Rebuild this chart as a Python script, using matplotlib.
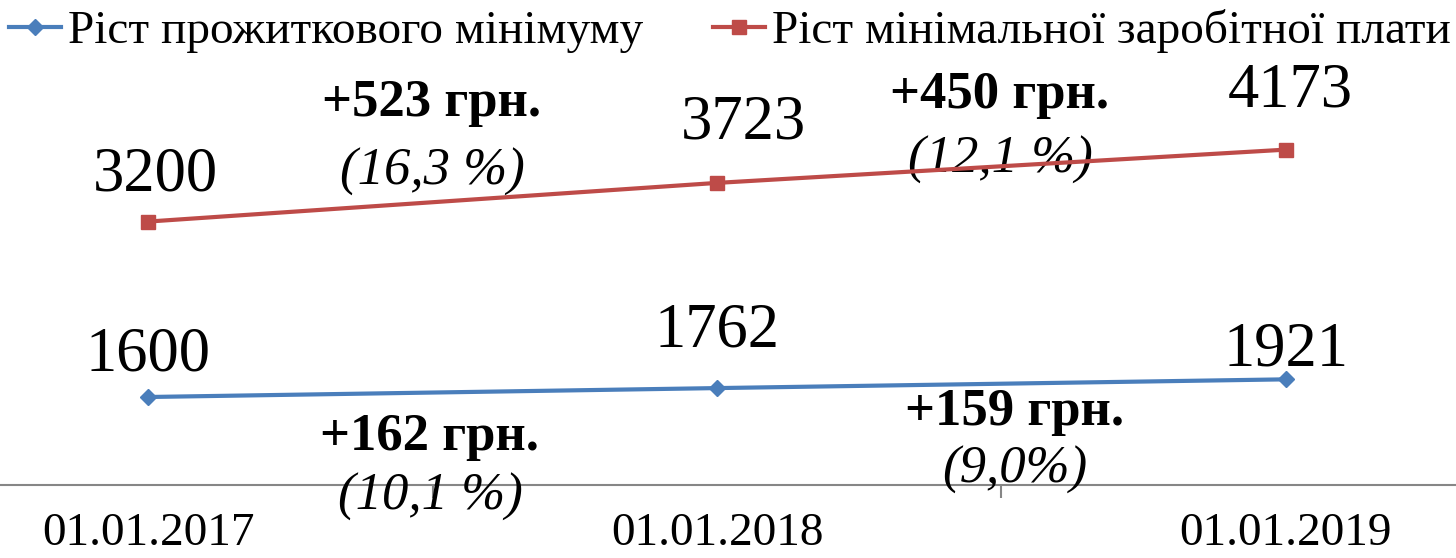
import matplotlib.pyplot as plt
import matplotlib as mpl

mpl.rcParams['font.family'] = ['Liberation Serif', 'DejaVu Serif']
mpl.rcParams['font.size'] = 34

dates = ['01.01.2017', '01.01.2018', '01.01.2019']
subsistence = [1600, 1762, 1921]
min_wage = [3200, 3723, 4173]

# growth notes between the dates
wage_delta = ['+523 грн.', '+450 грн.']
wage_pct = ['(16,3 %)', '(12,1 %)']
subs_delta = ['+162 грн.', '+159 грн.']
subs_pct = ['(10,1 %)', '(9,0%)']

blue = '#4A7EBB'
red = '#BE4B48'

W, H = 1456, 558
fig = plt.figure(figsize=(W / 100, H / 100), dpi=100)
# axes wider than figure: category edges fall outside the picture
ax = fig.add_axes([-136 / W, 73 / H, 1706 / W, 485 / H])
ax2 = ax.twinx()

x = list(range(len(dates)))
l1, = ax.plot(x, subsistence, color=blue, lw=3, marker='D', ms=8,
              label='Ріст прожиткового мінімуму', zorder=3)
l2, = ax2.plot(x, min_wage, color=red, lw=3, marker='s', ms=10,
               label='Ріст мінімальної заробітної плати', zorder=3)

ax.set_xlim(-0.5, 2.5)
ax.set_ylim(0, 485 / 0.055)
ax2.set_ylim(-365, 6198)

for a in (ax, ax2):
    for s in ('top', 'right', 'left'):
        a.spines[s].set_visible(False)
    a.set_yticks([])
ax2.spines['bottom'].set_visible(False)
ax.spines['bottom'].set_color('#868686')
ax.spines['bottom'].set_linewidth(1.5)

ax.set_xticks(x)
ax.set_xticklabels(dates, fontsize=34)
ax.tick_params(axis='x', which='major', length=0, pad=20)
ax.set_xticks([0.5, 1.5], minor=True)
ax.tick_params(axis='x', which='minor', length=9, width=1.5, color='#868686',
               direction='out')

# data labels (offsets in points)
subs_off = [(0, 30), (0, 41), (0, 21)]
wage_off = [(5, 33), (19, 43), (3, 42)]
for i, v in enumerate(subsistence):
    ax.annotate(str(v), (x[i], v), xytext=subs_off[i], textcoords='offset points',
                ha='center', va='center', fontsize=45)
for i, v in enumerate(min_wage):
    ax2.annotate(str(v), (x[i], v), xytext=wage_off[i], textcoords='offset points',
                 ha='center', va='center', fontsize=45)

# growth notes, positions in axes fraction
note_x = [(432 + 136) / 1706, (1000 + 136) / 1706]
note_x2 = [(430 + 136) / 1706, (1015 + 136) / 1706]
wage_y = [(103, 172), (95, 160)]
subs_y = [(437, 497), (412, 470)]
for i in range(2):
    ax.text(note_x[i], (485 - wage_y[i][0]) / 485, wage_delta[i], transform=ax.transAxes,
            ha='center', va='center', fontsize=38, fontweight='bold')
    ax.text(note_x[i], (485 - wage_y[i][1]) / 485, wage_pct[i], transform=ax.transAxes,
            ha='center', va='center', fontsize=38, fontstyle='italic')
    ax.text(note_x2[i], (485 - subs_y[i][0]) / 485, subs_delta[i], transform=ax.transAxes,
            ha='center', va='center', fontsize=38, fontweight='bold')
    ax.text(note_x2[i], (485 - subs_y[i][1]) / 485, subs_pct[i], transform=ax.transAxes,
            ha='center', va='center', fontsize=38, fontstyle='italic', clip_on=False)

fig.legend(handles=[l1, l2], loc='upper left', bbox_to_anchor=(0.0, 1.0),
           ncol=2, frameon=False, fontsize=34, handlelength=1.1, handletextpad=0.13,
           columnspacing=1.5, borderaxespad=0, borderpad=0.2)

fig.savefig('out.png', dpi=100)
